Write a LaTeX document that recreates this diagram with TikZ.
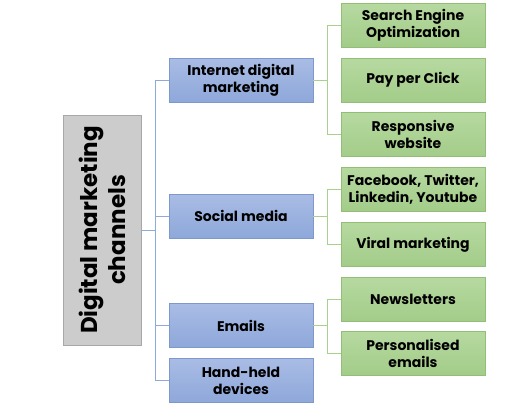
\documentclass[tikz,border=0pt]{standalone}
\usepackage{fontspec}
\setmainfont{Poppins}
\definecolor{blueA}{HTML}{A9BCE5}
\definecolor{blueB}{HTML}{8EA8DA}
\definecolor{blueline}{HTML}{8EAADB}
\definecolor{blueedge}{HTML}{7F98CC}
\definecolor{greenA}{HTML}{B6D9A0}
\definecolor{greenB}{HTML}{A3CC89}
\definecolor{greenline}{HTML}{A9D18E}
\definecolor{greenedge}{HTML}{92BE78}
\definecolor{grayA}{HTML}{CCCCCC}
\definecolor{grayedge}{HTML}{A8A8A8}
\begin{document}
\begin{tikzpicture}[x=1pt,y=-1pt,
    txt/.style={font=\fontsize{14}{17}\selectfont\bfseries, align=center, inner sep=0pt},
    chan/.style={txt, draw=blueedge, top color=blueA, bottom color=blueB,
        minimum width=144pt, minimum height=44pt},
    sub/.style={txt, draw=greenedge, top color=greenA, bottom color=greenB,
        minimum width=144pt, minimum height=44pt},
    rootbox/.style={draw=grayedge, fill=grayA, minimum width=78pt, minimum height=230pt,
        inner sep=0pt},
    bline/.style={draw=blueline, line width=1pt},
    gline/.style={draw=greenline, line width=1pt}]
\useasboundingbox (0,0) rectangle (507,418);

\node[rootbox] (root) at (102,230) {};
\node[rotate=90, align=center, font=\fontsize{23}{28}\selectfont\bfseries, inner sep=0pt]
    (roottext) at (root.center) {Digital marketing\\channels};

\node[chan] (inet)  at (241,80)  {Internet digital\\marketing};
\node[chan] (social) at (241,216) {Social media};
\node[chan] (email) at (241,325.5) {Emails};
\node[chan] (hand)  at (241,380.5) {Hand-held\\devices};

\node[sub] (seo)   at (413,25)  {Search Engine\\Optimization};
\node[sub] (ppc)   at (413,80)  {Pay per Click};
\node[sub] (resp)  at (413,134.5) {Responsive\\website};
\node[sub] (fb)    at (413,189) {Facebook, Twitter,\\Linkedin, Youtube};
\node[sub] (viral) at (413,244.5) {Viral marketing};
\node[sub] (news)  at (413,299) {Newsletters};
\node[sub] (pers)  at (413,353) {Personalised\\emails};

\coordinate (bt) at (155,0);
\coordinate (gt) at (327,0);

\draw[bline] (root.east) -- (root.east -| bt);
\draw[bline] (inet.west) -| (bt |- hand.west) -- (hand.west);
\draw[bline] (bt |- social.west) -- (social.west);
\draw[bline] (bt |- email.west) -- (email.west);

\draw[gline] (inet.east) -- (gt |- inet.east);
\draw[gline] (seo.west) -| (gt |- resp.west) -- (resp.west);
\draw[gline] (social.east) -- (gt |- social.east);
\draw[gline] (fb.west) -| (gt |- viral.west) -- (viral.west);
\draw[gline] (email.east) -- (gt |- email.east);
\draw[gline] (news.west) -| (gt |- pers.west) -- (pers.west);
\end{tikzpicture}
\end{document}
